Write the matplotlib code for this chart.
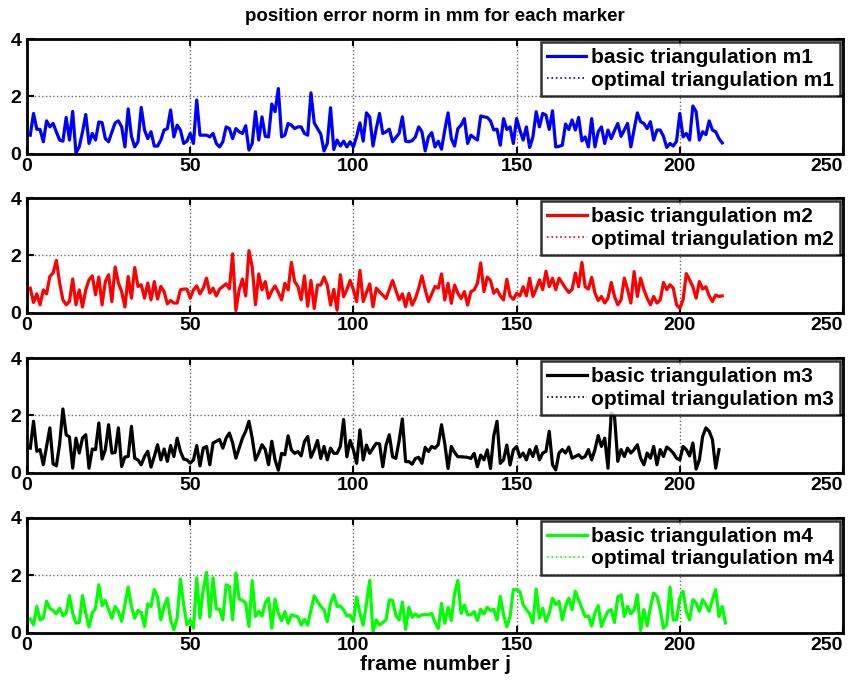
import numpy as np
import matplotlib
matplotlib.use("Agg")
import matplotlib.pyplot as plt

plt.rcParams['font.family'] = ['Liberation Sans', 'DejaVu Sans']
plt.rcParams['font.weight'] = 'bold'

# position error norm (mm) per frame
m1 = [0.64, 1.4, 0.85, 0.84, 0.41, 1.14, 0.93, 1.05, 0.75, 0.47,
      0.43, 1.26, 0.47, 1.47, 0.02, 0.23, 0.75, 1.36, 0.35, 0.7,
      0.47, 1.1, 1.08, 0.52, 0.41, 0.75, 1.07, 1.14, 0.93, 0.23,
      1.56, 0.6, 0.23, 0.41, 1.61, 0.82, 0.52, 0.76, 0.26, 0.26,
      0.47, 0.82, 0.87, 1.52, 0.58, 0.99, 0.82, 0.35, 0.43, 0.7,
      0.35, 1.87, 0.64, 0.64, 0.64, 0.58, 0.7, 0.35, 0.23, 0.41,
      0.93, 0.87, 0.52, 0.87, 0.76, 0.7, 0.97, 0.12, 0.35,
      1.46, 0.47, 1.28, 0.6, 0.58, 1.73, 1.46, 2.27, 0.58,
      0.64, 1.05, 0.99, 0.87, 0.93, 0.93, 0.7, 0.64, 2.12, 1.07,
      0.87, 0.68, 0.09, 0.35, 1.6, 0.14, 0.47, 0.26, 0.43, 0.23,
      0.41, 0.23, 0.6, 1.07, 0.43, 1.42, 1.28, 0.26, 0.87, 1.4,
      0.7, 0.76, 0.85, 0.41, 0.56, 0.7, 1.28, 0.43, 0.41, 0.45,
      0.58, 0.93, 0.76, 0.09, 0.58, 0.73, 0.23, 0.43, 0.15, 0.82,
      1.42, 0.52, 0.26, 0.87, 0.99, 1.22, 0.35, 0.64, 0.55, 0.47,
      1.31, 1.28, 1.26, 1.14, 0.82, 0.85, 0.29, 1.22, 0.84, 0.93,
      0.35, 1.22, 0.82, 0.47, 0.93, 0.21, 0.58, 1.46, 0.93, 1.4,
      1.34, 0.84, 1.49, 0.23, 0.25, 0.29, 1.03, 0.84, 1.17, 0.82,
      1.26, 0.44, 0.58, 0.23, 1.22, 0.23, 0.76, 0.93, 0.35, 0.82,
      0.52, 0.8, 1.05, 0.6, 0.82, 1.05, 0.23, 0.84, 1.42, 1.11,
      1.05, 0.87, 1.11, 0.47, 0.82, 0.82, 0.6, 0.21, 0.35, 0.26,
      0.43, 1.4, 0.58, 0.7, 0.47, 1.66, 1.46, 0.47, 0.76, 0.66,
      1.14, 0.82, 0.76, 0.52, 0.37]

m2 = [0.85, 0.35, 0.65, 0.27, 0.79, 0.65, 1.26, 1.38, 1.82, 1.03,
      0.44, 0.27, 0.38, 1.17, 0.27, 0.79, 0.19, 0.79, 1.14, 1.28,
      0.62, 1.24, 0.27, 1.08, 1.32, 0.38, 1.59, 1.03, 0.73, 0.19,
      1.26, 0.5, 1.57, 0.91, 0.97, 0.5, 1.03, 0.44, 1.08, 0.47,
      0.91, 0.73, 0.3, 0.42, 0.33, 0.33, 0.79, 0.82, 0.82, 0.5,
      0.79, 0.93, 0.65, 0.85, 1.2, 0.68, 0.85, 0.58, 0.82, 0.91,
      1.0, 0.83, 2.05, 0.07, 0.79, 1.17, 0.58, 2.16, 1.59,
      0.27, 1.35, 0.79, 1.08, 0.5,
      0.75, 0.93, 0.7, 0.44, 1.02, 0.79, 1.75, 1.08, 0.91, 0.44,
      1.28, 0.22, 1.12, 0.14, 0.96, 0.96, 1.24, 0.96, 0.26, 0.81,
      0.08, 1.32, 0.55, 0.8, 1.12, 0.79, 0.38, 1.47, 0.38, 0.7,
      1.0, 0.2, 0.85, 0.72, 0.61, 0.49, 0.8, 1.12, 0.78, 0.44,
      0.65, 0.2, 0.67, 0.26, 0.49, 0.85, 1.28, 0.8, 0.38, 0.65,
      0.91, 0.85, 1.35, 0.44, 1.02, 0.32, 0.96, 0.67, 0.49, 0.73,
      0.26, 0.73, 0.79, 1.02, 1.73, 0.73, 1.24, 1.12, 0.67, 0.81,
      0.58, 0.44, 1.16, 0.58, 0.46, 0.67,
      0.58, 0.9, 0.58, 1.2, 0.56, 0.82, 1.14, 0.8, 1.44, 0.9,
      1.2, 0.8, 1.2, 1.03, 0.85, 0.7, 0.8, 1.38, 0.9, 1.75,
      0.9, 0.82, 1.23, 0.68, 0.42, 0.56, 0.33, 0.5, 1.05, 0.56,
      0.27, 0.44, 1.2, 0.8, 0.33, 1.43, 0.56, 1.2, 0.8, 0.5,
      0.27, 0.56, 0.33, 0.44, 1.05, 0.8, 0.97, 0.85, 0.27, 0.15,
      0.44, 1.36, 1.14, 0.9, 0.5, 1.08, 0.82, 0.9, 0.58, 0.38,
      0.61, 0.56, 0.58]

m3 = [0.85, 1.79, 0.74, 0.8, 0.27, 0.91, 1.56, 0.3, 0.23, 1.0,
      2.22, 1.32, 1.24, 0.15, 1.2, 0.68, 1.2, 1.32, 0.15, 0.82,
      0.8, 1.73, 0.47, 0.8, 1.67, 0.68, 0.7, 1.56, 0.21, 0.54,
      0.56, 1.61, 0.5, 0.44, 0.27, 0.56, 0.74, 0.19, 0.56, 0.97,
      0.44, 0.82, 0.39, 0.94, 0.56, 1.2, 0.74, 0.47, 0.44, 0.33,
      0.44, 0.94, 0.23, 0.85, 0.91, 0.27, 1.03, 1.09, 1.15, 0.85,
      1.2, 1.38, 1.03, 0.5, 0.85, 1.2, 1.44, 1.79, 1.2, 0.44,
      0.68, 0.97, 0.8, 0.27,
      1.09, 0.44, 0.08, 0.67, 0.62, 1.28, 0.79, 0.67, 0.73, 0.58,
      1.08, 1.26, 0.53, 0.79, 1.12, 0.49, 0.91, 0.44, 0.85, 0.67,
      0.67, 0.91, 1.85, 0.55, 1.12, 0.79, 0.32, 1.49, 0.44, 0.96,
      0.67, 0.85, 1.02, 1.0, 0.2, 0.96, 1.32, 0.55, 0.49, 1.1,
      1.87, 0.38, 0.38, 0.29, 0.49, 0.53, 0.32, 0.88, 0.73, 0.91,
      0.85, 0.98, 1.67, 1.0, 0.14, 0.91, 0.7, 0.55, 0.55, 0.54,
      0.53, 0.49, 0.67, 0.2, 0.61, 0.44, 0.79, 0.14, 1.28, 1.79,
      0.32, 0.44, 0.96, 0.26, 0.79,
      0.91, 0.54, 0.68, 0.44, 0.8, 0.56, 0.91, 0.44, 0.68, 0.74, 1.44,
      0.27, 0.09, 0.68, 0.8, 0.68, 0.89, 0.5, 0.56, 0.62, 0.5,
      0.56, 0.8, 0.44, 0.8, 1.29, 0.91, 1.2, 0.15, 2.08, 1.96,
      0.39, 0.8, 0.56, 0.85, 0.68, 0.8, 0.97, 0.5, 0.27, 0.68,
      0.5, 0.91, 0.27, 0.8, 0.56, 0.89, 0.8, 0.68, 0.5, 0.44,
      0.91, 0.8, 0.58, 1.03, 0.12, 0.44, 1.26, 1.56, 1.44, 1.15,
      0.15, 0.8]

m4 = [0.47, 0.27, 0.91, 0.44, 0.5, 1.09, 0.85, 0.77, 0.65, 0.85,
      0.58, 0.68, 1.29, 0.68, 0.33, 0.35, 1.29, 0.68, 0.19, 0.68,
      0.85, 1.67, 0.94, 1.12, 0.8, 0.5, 0.91, 0.74, 0.39, 0.97,
      1.59, 0.91, 0.5, 0.77, 0.7, 0.21, 1.0, 0.91, 1.5, 1.24,
      0.44, 0.91, 1.2, 0.44, 0.09, 0.5, 1.87, 0.97, 0.27, 0.44,
      0.15, 1.91, 0.5, 1.5, 2.1, 0.54, 1.91, 0.82, 0.82, 0.44,
      1.67, 1.61, 0.44, 2.08, 1.17, 1.12, 1.03, 0.21, 1.81, 0.56,
      0.74, 0.58, 1.03, 1.2, 0.15,
      1.16, 0.67, 0.41, 0.73, 0.32, 0.62, 0.58, 0.55, 0.26, 0.46,
      0.26, 0.79, 1.28, 1.08, 0.91, 0.79, 0.38, 1.02, 1.32, 0.91,
      0.93, 0.79, 0.58, 0.61, 0.38, 1.24, 0.67, 0.26, 1.0, 1.82,
      0.02, 0.44, 0.26, 0.35, 0.44, 1.14, 1.12, 0.61, 0.44, 1.06,
      0.11, 0.88, 0.53, 0.65, 0.55, 0.62, 0.62, 0.62, 0.67,
      0.35, 0.14, 1.02, 0.32, 0.88, 0.42, 1.35, 1.82, 0.67, 0.96,
      0.62, 0.62, 0.73, 0.42, 0.81, 0.65, 0.88, 0.77, 0.81, 0.44,
      1.26, 0.62, 0.2, 0.55, 1.5, 1.5,
      1.43, 0.97, 0.8, 0.65, 0.33, 1.52, 0.5, 0.85, 0.39, 0.68,
      1.2, 0.97, 1.09, 0.44, 0.91, 1.2, 0.8, 1.44, 1.15, 0.85,
      0.56, 0.58, 0.23, 0.68, 0.94, 0.21, 0.5, 0.74, 0.8, 0.35,
      1.24, 1.32, 0.56, 0.91, 0.65, 0.8, 1.32, 0.07, 0.8, 0.23,
      0.89, 1.38, 1.26, 0.8, 0.15, 0.27, 1.59, 0.44, 0.44, 1.2,
      1.44, 0.74, 0.44, 1.15, 1.03, 0.74, 1.15, 0.97, 0.74, 1.15,
      1.5, 0.56, 0.91, 0.33]

# optimal triangulation coincides with basic one in the picture
series = [m1, m2, m3, m4]
colors = ['#0000ff', '#ff0000', '#000000', '#00ff00']
names = ['m1', 'm2', 'm3', 'm4']
xticks = [0, 50, 100, 150, 200, 250]
yticks = [0, 2, 4]

W, H = 861, 686
fig = plt.figure(figsize=(W / 100, H / 100), dpi=100)

left, right = 27, 843
tops = [39, 198, 358, 518]
ax_h = 114.5

axes = []
for i, (vals, col, nm) in enumerate(zip(series, colors, names)):
    ax = fig.add_axes([left / W, 1 - (tops[i] + ax_h) / H, (right - left) / W, ax_h / H])
    x = np.arange(1, len(vals) + 1)
    ax.plot(x, vals, '-', color=col, lw=2.3, label='basic triangulation ' + nm)
    ax.plot(x, vals, ':', color=col, lw=1.2, label='optimal triangulation ' + nm)
    ax.set_xlim(0, 250)
    ax.set_ylim(0, 4)
    ax.set_xticks(xticks)
    ax.set_yticks(yticks)
    ax.grid(True, linestyle=':', color='0.4', lw=1.0)
    ax.tick_params(direction='in', top=True, right=True, length=5, width=1.5,
                   labelsize=14)
    ax.tick_params(axis='x', pad=3)
    ax.tick_params(axis='y', pad=4)
    # last x label kept inside the figure, as in the original
    ax.get_xticklabels()[-1].set_horizontalalignment('right')
    for sp in ax.spines.values():
        sp.set_linewidth(2)
    leg = ax.legend(loc='upper right', fontsize=15, frameon=True, fancybox=False,
                    edgecolor='black', handlelength=1.9, handletextpad=0.2,
                    borderaxespad=0.15, borderpad=0.3, labelspacing=0.15)
    leg.get_frame().set_linewidth(1.8)
    axes.append(ax)

axes[0].set_title('position error norm in mm for each marker', fontsize=13.5,
                  fontweight='bold', pad=13)
axes[-1].set_xlabel('frame number j', fontsize=15, fontweight='bold', labelpad=1)

fig.savefig('out.png', dpi=100)
